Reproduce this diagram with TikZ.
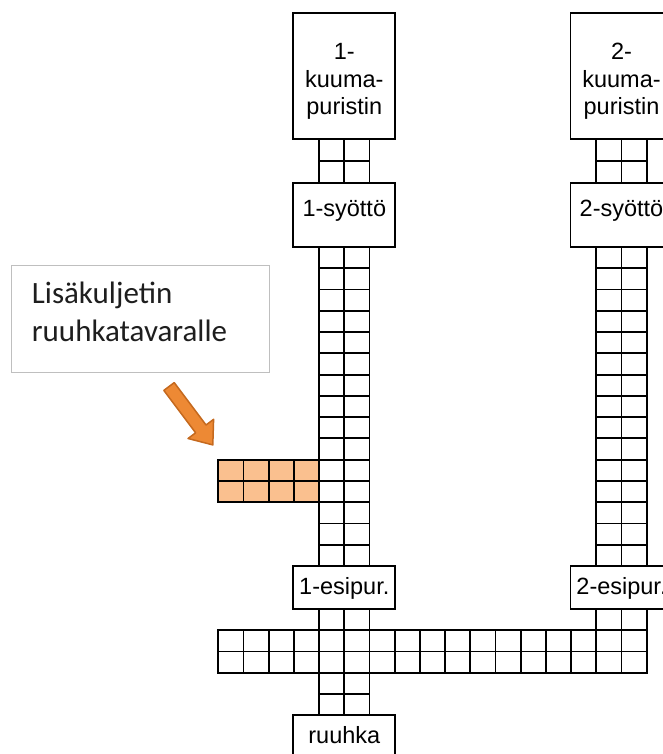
\documentclass[tikz,border=0pt]{standalone}
\usepackage{fontspec}
\setmainfont{Liberation Sans}
\newfontfamily\calloutfont{Carlito}
\definecolor{peach}{RGB}{250,192,143}
\definecolor{arrowfill}{RGB}{237,137,52}
\definecolor{arrowedge}{RGB}{197,105,30}
\definecolor{calloutedge}{RGB}{191,191,191}
\definecolor{callouttextcol}{RGB}{30,30,30}

% a two-lane belt segment: left x, top y, bottom y, number of rows
\newcommand\beltseg[4]{%
  \pgfmathsetmacro\rowh{(#3-#2)/#4}%
  \foreach \i in {0,...,#4} \draw[belt] (#1,{#2+\i*\rowh}) -- ++({2*\dx},0);%
  \foreach \j in {0,1,2} \draw[belt] ({#1+\j*\dx},#2) -- ({#1+\j*\dx},#3);%
}

\begin{document}
\begin{tikzpicture}[x=1pt,y=-1pt,
  belt/.style={draw=black,line width=1.9pt,line cap=rect},
  station/.style={draw=black,line width=1.9pt,fill=white,minimum width=102pt,inner sep=0pt},
  stationtext/.style={font=\fontsize{23.5}{27.5}\selectfont,align=center,inner sep=0pt,text=black},
  callout/.style={draw=calloutedge,line width=1.2pt,fill=white,inner sep=0pt},
  callouttext/.style={font=\calloutfont\fontsize{31}{38.5}\selectfont,align=left,inner sep=0pt,text=callouttextcol},
  blockarrow/.style={fill=arrowfill,draw=arrowedge,line width=1.5pt,line join=round},
]
\useasboundingbox (0,0) rectangle (663,754);
\clip (0,0) rectangle (663,754);

\def\xa{218.3}
\def\dx{25.2}
\pgfmathsetmacro\colA{\xa+4*\dx}
\pgfmathsetmacro\colB{\xa+15*\dx}
\pgfmathsetmacro\xmidA{\xa+5*\dx}
\pgfmathsetmacro\xmidB{\xa+16*\dx}

% extra belt towards the buffer store
\fill[peach] (\xa,459.7) rectangle (\colA,502.2);
\foreach \y in {459.7,481,502.2} \draw[belt] (\xa,\y) -- (\colA,\y);
\foreach \k in {0,...,3} \draw[belt] ({\xa+\k*\dx},459.7) -- ({\xa+\k*\dx},502.2);

% line 1 belts
\beltseg{\colA}{139}{183}{2}
\beltseg{\colA}{247}{566}{15}
\beltseg{\colA}{609}{630}{1}
\beltseg{\colA}{673}{715}{2}

% line 2 belts
\beltseg{\colB}{139}{183}{2}
\beltseg{\colB}{247}{566}{15}
\beltseg{\colB}{609}{630}{1}

% cross belt
\foreach \y in {630,651.5,673} \draw[belt] (\xa,\y) -- ({\xa+17*\dx},\y);
\foreach \k in {0,...,17} \draw[belt] ({\xa+\k*\dx},630) -- ({\xa+\k*\dx},673);

% stations, line 1
\node[station,minimum height=126pt] (kp1) at (\xmidA,76) {};
\node[station,minimum height=64pt] (sy1) at (\xmidA,215) {};
\node[station,minimum height=43pt] (ep1) at (\xmidA,587.5) {};
\node[station,minimum height=60pt] (ru) at (\xmidA,745) {};
\node[stationtext,anchor=base] (kp1t) at (\xmidA,115) {1-\\kuuma-\\puristin};
\node[stationtext,anchor=base] (sy1t) at (\xmidA,216) {1-syöttö};
\node[stationtext,anchor=base] (ep1t) at (\xmidA,594) {1-esipur.};
\node[stationtext,anchor=base] (rut) at (\xmidA,743) {ruuhka};

% stations, line 2
\node[station,minimum height=126pt] (kp2) at (\xmidB,76) {};
\node[station,minimum height=64pt] (sy2) at (\xmidB,215) {};
\node[station,minimum height=43pt] (ep2) at (\xmidB,587.5) {};
\node[stationtext,anchor=base] (kp2t) at (\xmidB,115) {2-\\kuuma-\\puristin};
\node[stationtext,anchor=base] (sy2t) at (\xmidB,216) {2-syöttö};
\node[stationtext,anchor=base] (ep2t) at (\xmidB,594) {2-esipur.};

% callout
\node[callout,minimum width=257.6pt,minimum height=106.6pt] (note) at (140.5,319) {};
\node[callouttext,anchor=base west] (notet) at (31.7,341.7) {Lisäkuljetin\\ruuhkatavaralle};

% block arrow pointing at the extra belt
\draw[blockarrow] (163.8,390.4) -- (195.6,432.8) -- (188,438.5) -- (212.8,444.9)
  -- (213.6,419.3) -- (206,425) -- (174.2,382.6) -- cycle;
\end{tikzpicture}
\end{document}
